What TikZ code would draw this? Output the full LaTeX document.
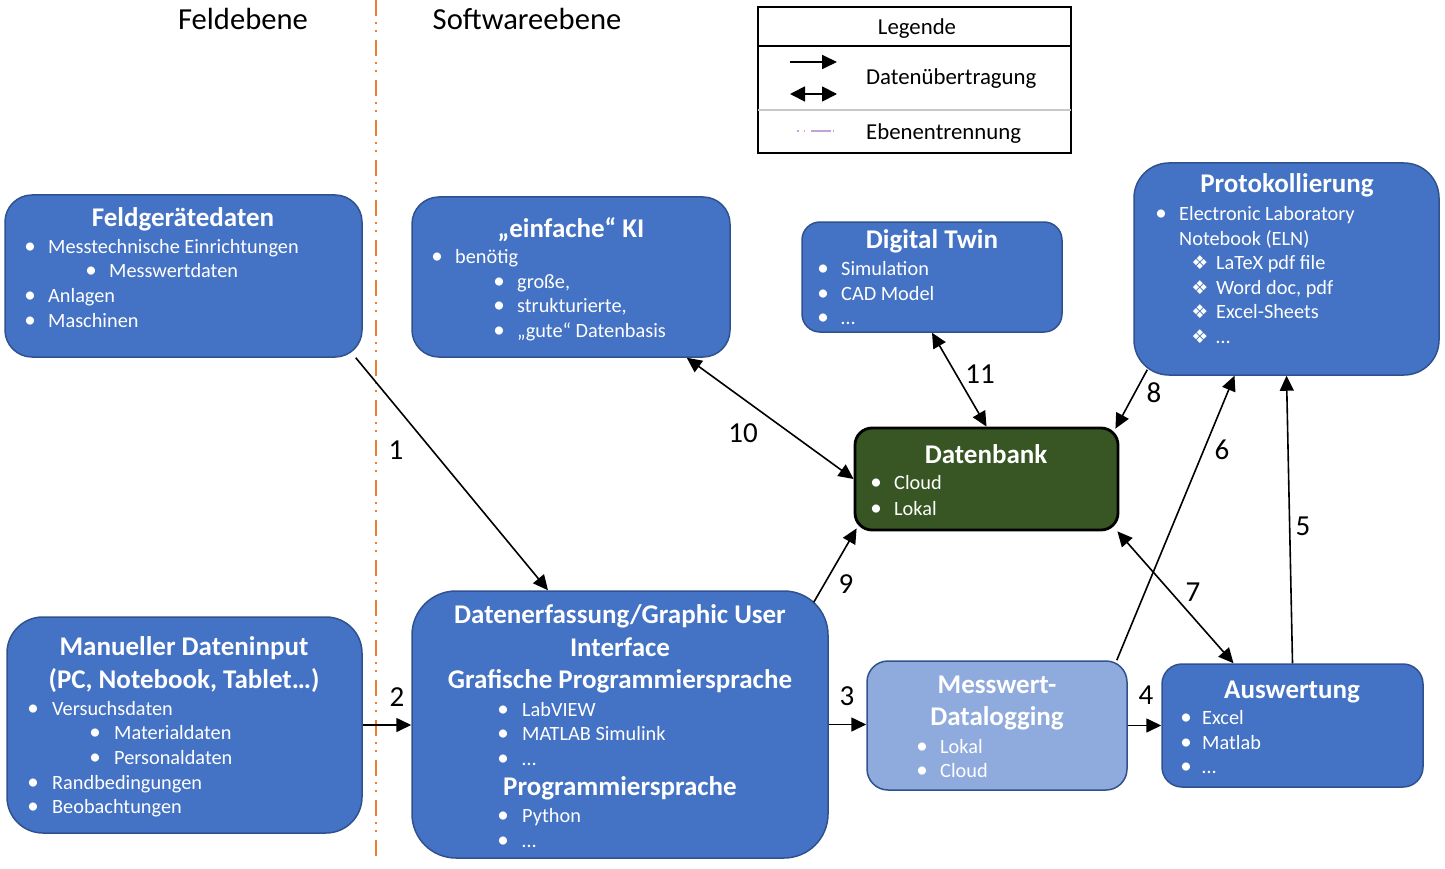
\documentclass[tikz,border=0pt]{standalone}
\usepackage{fontspec}
\setmainfont{Carlito}
\newfontfamily\djv{DejaVu Sans}
\usetikzlibrary{arrows.meta,calc}
\definecolor{boxblue}{HTML}{4472C4}
\definecolor{boxedge}{HTML}{2F528F}
\definecolor{lightblue}{HTML}{8FAADC}
\definecolor{dbgreen}{HTML}{375623}
\definecolor{sepor}{HTML}{ED7D31}
\definecolor{legpurple}{HTML}{C0A3D9}
\definecolor{leggray}{HTML}{C8C8C8}
\newcounter{tl}
\tikzset{
  txt/.style={text=white, inner sep=0pt, font=\fontsize{20.3}{24}\selectfont},
  ttl/.style={text=white, inner sep=0pt, font=\fontsize{27}{32}\selectfont\bfseries},
  numlbl/.style={text=black, inner sep=0pt, font=\fontsize{29}{29}\selectfont},
  blue box/.style={draw=boxedge, line width=1.5pt, fill=boxblue, inner sep=0pt},
  light box/.style={draw=boxedge, line width=1.5pt, fill=lightblue, inner sep=0pt},
  db box/.style={draw=black, line width=2.8pt, fill=dbgreen, inner sep=0pt},
  arr/.style={line width=1.6pt, -{Triangle[length=15pt,width=14pt]}},
  darr/.style={line width=1.6pt, {Triangle[length=15pt,width=14pt]}-{Triangle[length=15pt,width=14pt]}},
  heading/.style={inner sep=0pt, font=\fontsize{30.6}{31}\selectfont},
  legtxt/.style={inner sep=0pt, font=\fontsize{22.8}{24}\selectfont},
}
% title line (centered)
\newcommand\Tl[3]{\stepcounter{tl}\node[ttl,anchor=base] (t\arabic{tl}) at (#1,#2) {#3};}
% bullet line: bullet x, text x, baseline, text
\newcommand\Bl[4]{\stepcounter{tl}\node[txt,anchor=base] (b\arabic{tl}) at (#1,#3) {\fontsize{23}{24}\selectfont •};\node[txt,anchor=base west] (t\arabic{tl}) at (#2,#3) {#4};}
% plain text line
\newcommand\Pl[3]{\stepcounter{tl}\node[txt,anchor=base west] (t\arabic{tl}) at (#1,#2) {#3};}
% diamond bullet line
\newcommand\Dl[4]{\stepcounter{tl}\node[txt,anchor=base] (b\arabic{tl}) at (#1,#3) {\djv\fontsize{19}{19}\selectfont ❖};\node[txt,anchor=base west] (t\arabic{tl}) at (#2,#3) {#4};}
\begin{document}
\begin{tikzpicture}[x=1pt,y=-1pt]
\useasboundingbox (0,0) rectangle (1445,869);

% separation line
\coordinate (sepTop) at (376,0);
\coordinate (sepBot) at (376,860);
\draw[sepor, line width=2pt, dash pattern=on 16pt off 6pt on 2pt off 6pt on 2pt off 8pt] (sepTop) -- (sepBot);

% headings
\node[heading, anchor=base] (hFeld) at (243,30) {Feldebene};
\node[heading, anchor=base] (hSoft) at (527,30) {Softwareebene};

% legend
\node[draw=black, line width=1.8pt, minimum width=313, minimum height=146, inner sep=0pt] (leg) at (914.5,80) {};
\coordinate (legL1) at (758,46); \coordinate (legR1) at (1071,46);
\coordinate (legL2) at (758,110); \coordinate (legR2) at (1071,110);
\draw[line width=1.8pt] (legL1) -- (legR1);
\draw[leggray, line width=1.8pt] (legL2) -- (legR2);
\node[legtxt, anchor=base] (legT) at (917,35) {Legende};
\coordinate (la1) at (790,62); \coordinate (lb1) at (837,62);
\coordinate (la2) at (790,94); \coordinate (lb2) at (837,94);
\draw[line width=1.8pt, -{Triangle[length=15pt,width=14pt]}] (la1) -- (lb1);
\draw[line width=1.8pt, {Triangle[length=15pt,width=15pt]}-{Triangle[length=15pt,width=15pt]}] (la2) -- (lb2);
\node[legtxt, anchor=base west] (legD) at (866,85) {Datenübertragung};
\coordinate (lc1) at (797,131); \coordinate (lc2) at (833,131);
\draw[legpurple, line width=1.6pt, dash pattern=on 1.5pt off 5pt on 1.5pt off 6pt on 20pt] (lc1) -- (lc2);
\node[legtxt, anchor=base west] (legE) at (866,140) {Ebenentrennung};

% boxes
\node[blue box, rounded corners=27pt, minimum width=357, minimum height=162] (fg) at (183.5,276) {};
\node[blue box, rounded corners=27pt, minimum width=318, minimum height=160] (ki) at (571,277) {};
\node[blue box, rounded corners=18pt, minimum width=260, minimum height=110] (dt) at (932,277) {};
\node[blue box, rounded corners=35pt, minimum width=305, minimum height=212] (pr) at (1286.5,269) {};
\node[db box, rounded corners=17pt, minimum width=263, minimum height=102] (db) at (986.5,479) {};
\node[blue box, rounded corners=36pt, minimum width=355, minimum height=216] (mi) at (184.5,725) {};
\node[blue box, rounded corners=44pt, minimum width=416, minimum height=267] (de) at (620,724.5) {};
\node[light box, rounded corners=21pt, minimum width=260, minimum height=129] (mw) at (997,725.5) {};
\node[blue box, rounded corners=20pt, minimum width=261, minimum height=123] (aw) at (1292.5,725.5) {};

% Feldgeraetedaten
\Tl{183}{226}{Feldgerätedaten}
\Bl{30}{48}{253}{Messtechnische Einrichtungen}
\Bl{91}{109}{277}{Messwertdaten}
\Bl{30}{48}{302}{Anlagen}
\Bl{30}{48}{327}{Maschinen}

% KI
\Tl{571}{237}{„einfache“ KI}
\Bl{437}{455}{263}{benötig}
\Bl{499}{517}{288}{große,}
\Bl{499}{517}{312}{strukturierte,}
\Bl{499}{517}{337}{„gute“ Datenbasis}

% Digital Twin
\Tl{932}{248}{Digital Twin}
\Bl{823}{841}{275}{Simulation}
\Bl{823}{841}{300}{CAD Model}
\Bl{823}{841}{324}{…}

% Protokollierung
\Tl{1287}{193}{Protokollierung}
\Bl{1161}{1179}{220}{Electronic Laboratory}
\Pl{1179}{245}{Notebook (ELN)}
\Dl{1200}{1216}{269}{LaTeX pdf file}
\Dl{1200}{1216}{294}{Word doc, pdf}
\Dl{1200}{1216}{318}{Excel-Sheets}
\Dl{1200}{1216}{343}{…}

% Datenbank
\Tl{986}{463}{Datenbank}
\Bl{876}{894}{489}{Cloud}
\Bl{876}{894}{515}{Lokal}

% Manueller Dateninput
\Tl{184}{655}{Manueller Dateninput}
\Tl{184}{688}{(PC, Notebook, Tablet…)}
\Bl{33}{52}{715}{Versuchsdaten}
\Bl{95}{114}{739}{Materialdaten}
\Bl{95}{114}{764}{Personaldaten}
\Bl{33}{52}{789}{Randbedingungen}
\Bl{33}{52}{813}{Beobachtungen}

% Datenerfassung
\Tl{620}{623}{Datenerfassung/Graphic User}
\Tl{620}{656}{Interface}
\Tl{620}{688}{Grafische Programmiersprache}
\Bl{503}{522}{716}{LabVIEW}
\Bl{503}{522}{740}{MATLAB Simulink}
\Bl{503}{522}{765}{…}
\Tl{620}{795}{Programmiersprache}
\Bl{503}{522}{822}{Python}
\Bl{503}{522}{847}{…}

% Messwert-Datalogging
\Tl{997}{693}{Messwert-}
\Tl{997}{725}{Datalogging}
\Bl{922}{940}{753}{Lokal}
\Bl{922}{940}{777}{Cloud}

% Auswertung
\Tl{1292}{698}{Auswertung}
\Bl{1186}{1202}{724}{Excel}
\Bl{1186}{1202}{749}{Matlab}
\Bl{1186}{1202}{773}{…}

% connectors
\draw[arr] ($(fg.south east)+(-7,0)$) -- ($(de.north)+(-72,0)$);
\draw[arr] (mi.east) -- (mi.east -| de.west);
\draw[arr] (de.east) -- (de.east -| mw.west);
\draw[arr] (mw.east) -- (mw.east -| aw.west);
\draw[arr] (aw.north) -- (pr.south);
\draw[arr] ($(mw.north east)+(-11,0)$) -- ($(pr.south)+(-52,0)$);
\draw[darr] ($(db.south east)+(-2,0)$) -- ($(aw.north)+(-59,0)$);
\draw[arr] ($(pr.south west)+(14,-6)$) -- ($(db.north east)+(-4,2)$);
\draw[arr] ($(de.north east)+(-15,12)$) -- ($(db.south west)+(3,-3)$);
\draw[darr] ($(ki.south east)+(-44,0)$) -- (db.west);
\draw[darr] (dt.south) -- (db.north);

% connector labels
\node[numlbl] (n1) at (396,450) {1};
\node[numlbl] (n2) at (397,697) {2};
\node[numlbl] (n3) at (847,696) {3};
\node[numlbl] (n4) at (1146,695) {4};
\node[numlbl] (n5) at (1303,526) {5};
\node[numlbl] (n6) at (1222,450) {6};
\node[numlbl] (n7) at (1193,592) {7};
\node[numlbl] (n8) at (1154,393) {8};
\node[numlbl] (n9) at (846,584) {9};
\node[numlbl] (n10) at (743,433) {10};
\node[numlbl] (n11) at (980,374) {11};
\end{tikzpicture}
\end{document}
